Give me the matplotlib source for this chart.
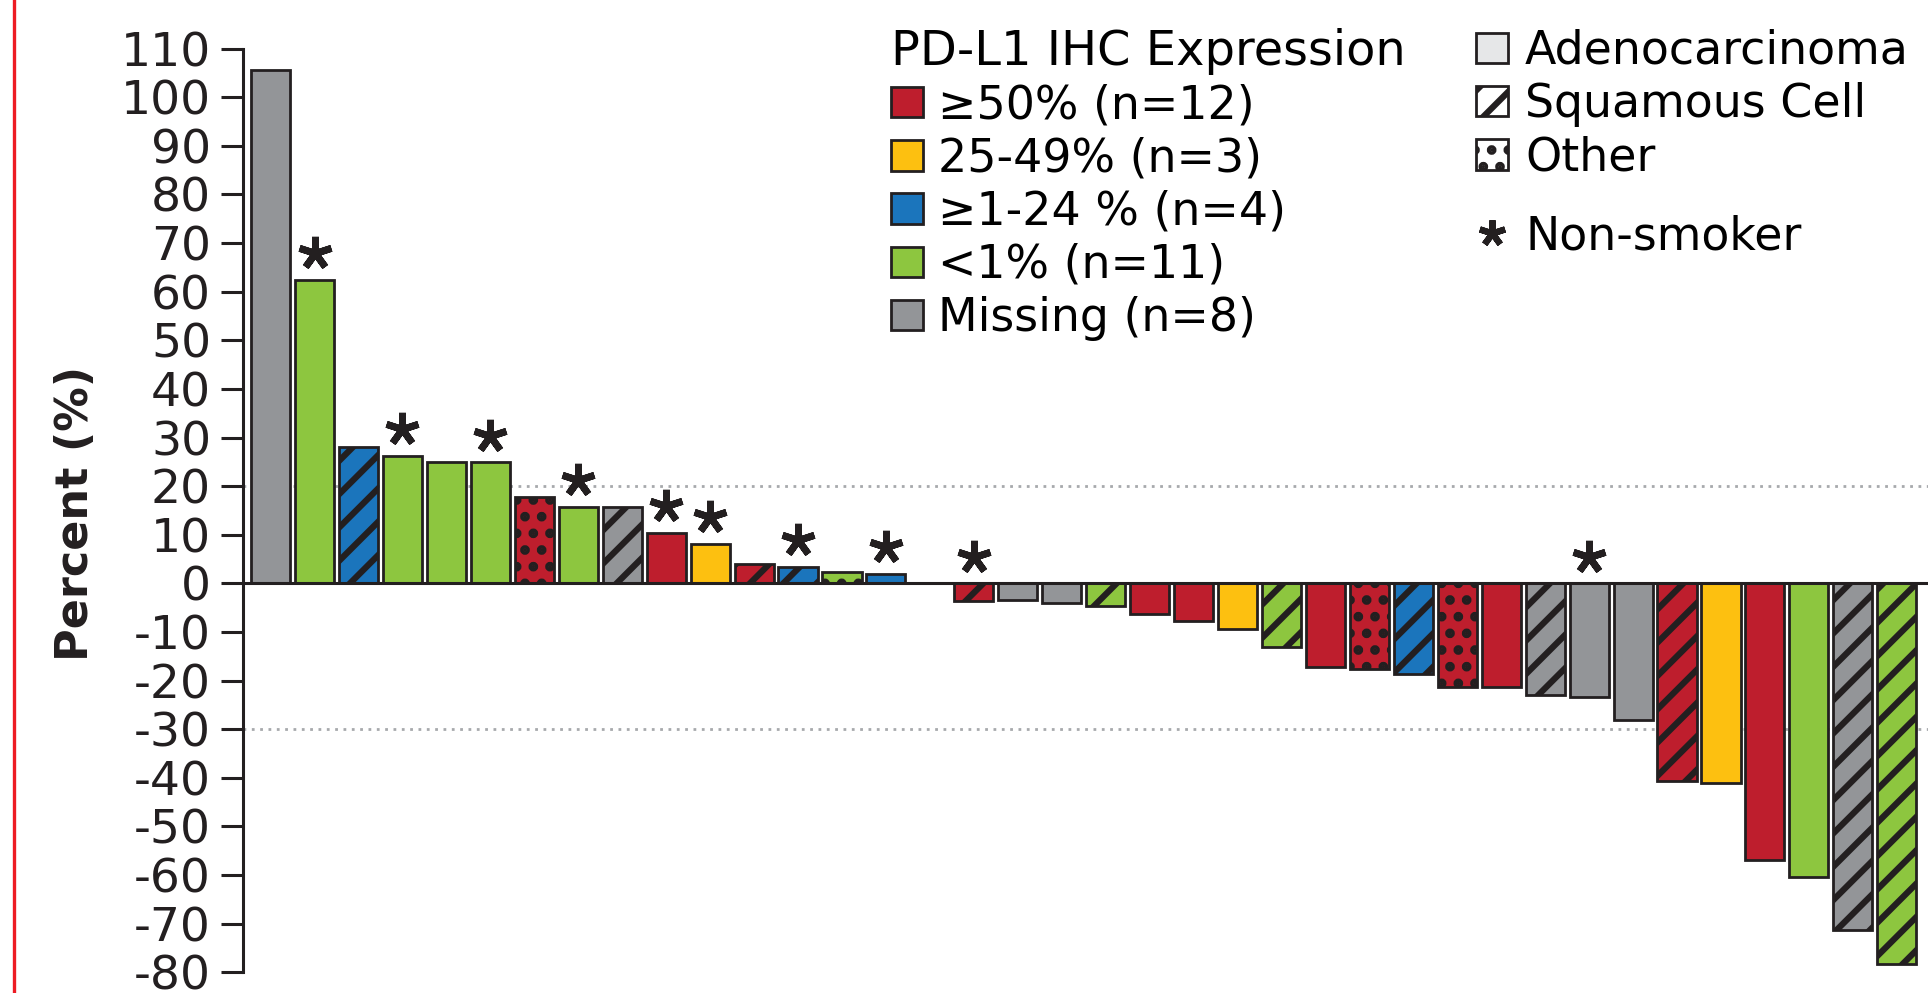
import matplotlib
matplotlib.use('Agg')
import matplotlib.pyplot as plt
from matplotlib.patches import Patch
from matplotlib.lines import Line2D

# Waterfall data: best change from baseline per patient
values = [105.5, 62.5, 28.0, 26.3, 24.9, 24.9, 17.7, 15.8, 15.8, 10.4,
          8.1, 4.0, 3.4, 2.4, 2.0, 0.0, -3.6, -3.5, -4.1, -4.6,
          -6.2, -7.7, -9.3, -13.0, -17.1, -17.7, -18.7, -21.4, -21.4, -22.9,
          -23.3, -28.1, -40.6, -41.1, -56.8, -60.4, -71.4, -78.2]

# PD-L1 group per bar: H >=50%, M 25-49%, L >=1-24%, N <1%, X missing
pdl1 = ['X', 'N', 'L', 'N', 'N', 'N', 'H', 'N', 'X', 'H',
        'M', 'H', 'L', 'N', 'L', 'N', 'H', 'X', 'X', 'N',
        'H', 'H', 'M', 'N', 'H', 'H', 'L', 'H', 'H', 'X',
        'X', 'X', 'H', 'M', 'H', 'N', 'X', 'N']

# histology: A adenocarcinoma, S squamous, O other
histology = ['A', 'A', 'S', 'A', 'A', 'A', 'O', 'A', 'S', 'A',
             'A', 'S', 'S', 'O', 'A', 'A', 'S', 'A', 'A', 'S',
             'A', 'A', 'A', 'S', 'A', 'O', 'S', 'O', 'A', 'S',
             'A', 'A', 'S', 'A', 'A', 'A', 'S', 'S']

non_smoker = [0, 1, 0, 1, 0, 1, 0, 1, 0, 1,
              1, 0, 1, 0, 1, 0, 1, 0, 0, 0,
              0, 0, 0, 0, 0, 0, 0, 0, 0, 0,
              1, 0, 0, 0, 0, 0, 0, 0]

group_keys = ['H', 'M', 'L', 'N', 'X']
group_labels = ['≥50% (n=12)', '25-49% (n=3)', '≥1-24 % (n=4)', '<1% (n=11)', 'Missing (n=8)']
group_colors = ['#be1e2d', '#fdc010', '#1b75bc', '#8dc63f', '#939598']

hist_labels = ['Adenocarcinoma', 'Squamous Cell', 'Other']
hist_hatch = {'A': '', 'S': '/', 'O': '.'}

EDGE = '#231f20'
plt.rcParams['hatch.linewidth'] = 4.5
plt.rcParams['axes.unicode_minus'] = False

fig = plt.figure(figsize=(19.28, 9.93), dpi=100)
W, H = 1928, 993
ax = fig.add_axes([243 / W, 1 - 972.3 / H, (1928 - 243) / W, (972.3 - 48.6) / H])

color_of = dict(zip(group_keys, group_colors))
x = list(range(len(values)))
bars = ax.bar(x, values, width=0.89, color=[color_of[g] for g in pdl1],
              edgecolor=EDGE, linewidth=2, zorder=3)
for b, h in zip(bars, histology):
    b.set_hatch(hist_hatch[h])

# non-smoker asterisks
sx = [i for i in x if non_smoker[i]]
sy = [max(values[i], 0) + 5.5 for i in sx]
ax.plot(sx, sy, ls='none', marker=(5, 2, 0), ms=24, mew=5, color=EDGE, zorder=5)

# reference lines
ax.axhline(20, color='#a7a9ac', lw=2, ls=(0, (1, 2)), zorder=1)
ax.axhline(-30, color='#a7a9ac', lw=2, ls=(0, (1, 2)), zorder=1)
ax.axhline(0, color=EDGE, lw=2.2, zorder=4)

ax.set_xlim(-0.628, 37.71)
ax.set_ylim(-80, 110)
ax.set_yticks(range(-80, 111, 10))
ax.set_xticks([])
for s in ['top', 'right', 'bottom']:
    ax.spines[s].set_visible(False)
ax.spines['left'].set_linewidth(2.2)
ax.spines['left'].set_color(EDGE)
ax.tick_params(axis='y', length=16, width=2.2, pad=7, labelsize=34,
               color=EDGE, labelcolor=EDGE)

fig.text(76 / W, 1 - 513 / H, 'Percent (%)', rotation=90, fontsize=32,
         fontweight='bold', ha='center', va='center', color=EDGE)

# red border on the left
fig.add_artist(Line2D([14 / W, 14 / W], [0, 1], transform=fig.transFigure,
                      color='#ed1c24', lw=2.4))

# legends
h1 = [Patch(facecolor=c, edgecolor=EDGE, linewidth=2) for c in group_colors]
leg1 = ax.legend(h1, group_labels, title='PD-L1 IHC Expression', loc='upper left',
                 bbox_to_anchor=(891 / W, 1 - 28 / H), bbox_transform=fig.transFigure,
                 frameon=False, fontsize=33, title_fontsize=34.5, alignment='left',
                 handlelength=0.7, handleheight=0.65, handletextpad=0.33,
                 labelspacing=0.18, borderpad=0, borderaxespad=0)
ax.add_artist(leg1)

h2 = [Patch(facecolor='#e6e7e8', edgecolor=EDGE, linewidth=2),
      Patch(facecolor='white', edgecolor=EDGE, linewidth=2, hatch='/'),
      Patch(facecolor='white', edgecolor=EDGE, linewidth=2, hatch='.')]
leg2 = ax.legend(h2, hist_labels, loc='upper left',
                 bbox_to_anchor=(1476 / W, 1 - 29 / H), bbox_transform=fig.transFigure,
                 frameon=False, fontsize=33, handlelength=0.7, handleheight=0.65,
                 handletextpad=0.37, labelspacing=0.18, borderpad=0, borderaxespad=0)
ax.add_artist(leg2)

h3 = [Line2D([], [], ls='none', marker=(5, 2, 0), ms=19, mew=4.5, color=EDGE)]
ax.legend(h3, ['Non-smoker'], loc='upper left',
          bbox_to_anchor=(1476 / W, 1 - 214 / H), bbox_transform=fig.transFigure,
          frameon=False, fontsize=33, handlelength=0.7, handleheight=0.65,
          handletextpad=0.37, borderpad=0, borderaxespad=0)

fig.savefig('out.png', dpi=100)
